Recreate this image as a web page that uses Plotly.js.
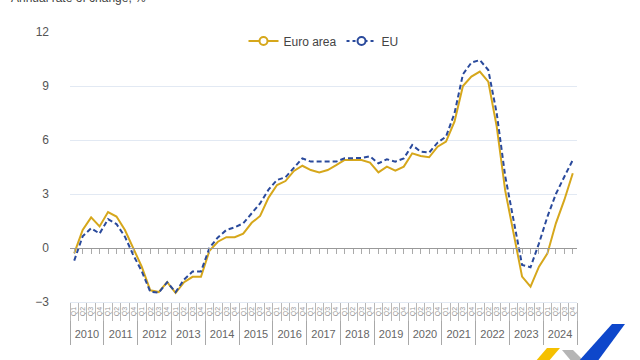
<!DOCTYPE html>
<html>
<head>
<meta charset="utf-8">
<script src="https://cdn.plot.ly/plotly-3.0.1.min.js"></script>
<style>html,body{margin:0;padding:0;background:#fff;}#chart{width:640px;height:360px;}</style>
</head>
<body>
<div id="chart"></div>
<script>
var years = ['2010','2011','2012','2013','2014','2015','2016','2017','2018','2019','2020','2021','2022','2023','2024'];
var quarters = ['Q1','Q2','Q3','Q4'];
var euroArea = [-0.3,1.0,1.7,1.2, 2.0,1.75,1.0,0.0, -1.05,-2.35,-2.45,-1.9, -2.5,-1.9,-1.6,-1.6,
  -0.15,0.35,0.6,0.6, 0.8,1.4,1.78,2.8, 3.5,3.72,4.28,4.57, 4.33,4.2,4.33,4.6,
  4.89,4.89,4.89,4.75, 4.2,4.52,4.3,4.52, 5.26,5.11,5.04,5.63, 5.91,7.02,9.0,9.52,
  9.8,9.24,6.74,3.2, 0.7,-1.59,-2.15,-1.04, -0.3,1.37,2.67,4.15];
var eu = [-0.7,0.65,1.1,0.8, 1.6,1.33,0.63,-0.4, -1.3,-2.43,-2.48,-1.9, -2.45,-1.75,-1.31,-1.3,
  0.0,0.59,1.0,1.15, 1.37,1.93,2.48,3.25, 3.78,3.93,4.43,4.98, 4.8,4.8,4.8,4.8,
  4.98,4.98,5.0,5.1, 4.7,4.93,4.8,4.98, 5.72,5.35,5.3,5.85, 6.19,7.48,9.65,10.3,
  10.44,9.89,7.48,4.0, 1.5,-0.94,-1.07,0.26, 1.74,3.0,3.96,4.89];
var seriesNames = ['Euro area','EU'];
var colors = ['#d6a71b','#2a4a9c'];

// category names and helper tick positions derived from the lists above
var cats = [], qText = [], idx = [], qBounds = [-0.5];
years.forEach(function(y){ quarters.forEach(function(q){
  cats.push(y + ' ' + q); qText.push(q); idx.push(idx.length); qBounds.push(idx.length - 0.5);
});});
var nQ = quarters.length;
var yearBounds = [], yearMids = [];
for (var k = 0; k <= years.length; k++) yearBounds.push(k*nQ - 0.5);
for (var k = 0; k < years.length; k++) yearMids.push(k*nQ + (nQ-1)/2);
var fullRange = [-0.5, cats.length - 0.5];

function helper(ax){ return {x:[null], y:[null], xaxis:ax, type:'scatter', mode:'lines', showlegend:false, hoverinfo:'skip'}; }

var traces = [
  {x:cats, y:euroArea, type:'scatter', mode:'lines', name:seriesNames[0], showlegend:false,
   line:{color:colors[0], width:2}, hoverinfo:'skip'},
  {x:cats, y:eu, type:'scatter', mode:'lines', name:seriesNames[1], showlegend:false,
   line:{color:colors[1], width:2, dash:'5px,3px'}, hoverinfo:'skip'},
  {x:[null], y:[null], xaxis:'x2', type:'scatter', mode:'lines+markers', name:seriesNames[0],
   line:{color:colors[0], width:2}, marker:{symbol:'circle', size:8, color:'#fff', line:{color:colors[0], width:2}}},
  {x:[null], y:[null], xaxis:'x2', type:'scatter', mode:'lines+markers', name:seriesNames[1],
   line:{color:colors[1], width:2, dash:'dot'}, marker:{symbol:'circle', size:8, color:'#fff', line:{color:colors[1], width:2}}},
  helper('x3'), helper('x4'), helper('x5')
];

function px(x){ return (x-70)/507; }
function py(y){ return (302-y)/270; }
function poly(pts){ return 'M' + pts.map(function(p){return px(p[0])+','+py(p[1]);}).join(' L') + ' Z'; }

var layout = {
  width:640, height:360,
  margin:{l:70, r:63, t:32, b:58},
  paper_bgcolor:'#fff', plot_bgcolor:'#fff',
  font:{family:'Liberation Sans, Arial, sans-serif', color:'#555', size:12},
  showlegend:true,
  legend:{orientation:'h', x:0.5, xanchor:'center', y:py(41), yanchor:'middle',
    bgcolor:'rgba(0,0,0,0)', font:{size:12, color:'#444'}, itemwidth:30, tracegroupgap:0},
  xaxis:{type:'category', range:fullRange, showgrid:false, zeroline:false,
    showline:true, linecolor:'#e2e9f3', linewidth:1,
    tickmode:'array', tickvals:cats, ticktext:qText, ticks:'',
    tickangle:-90, tickfont:{size:7, color:'#999'}, ticklabelstandoff:1},
  xaxis2:{overlaying:'x', anchor:'free', position:0.2, range:fullRange,
    tickmode:'array', tickvals:idx, showticklabels:false,
    ticks:'outside', ticklen:5, tickcolor:'#aaa', showline:true, linecolor:'#999', linewidth:1,
    showgrid:false, zeroline:false},
  xaxis3:{overlaying:'x', anchor:'y', side:'bottom', range:fullRange,
    tickmode:'array', tickvals:yearBounds, showticklabels:false,
    ticks:'outside', ticklen:42, tickcolor:'#a8a8a8', tickwidth:1,
    showline:false, showgrid:false, zeroline:false},
  xaxis4:{overlaying:'x', anchor:'y', side:'bottom', range:fullRange,
    tickmode:'array', tickvals:yearMids, ticktext:years, ticks:'',
    ticklabelstandoff:24, tickfont:{size:11, color:'#666'},
    showline:false, showgrid:false, zeroline:false},
  xaxis5:{overlaying:'x', anchor:'y', side:'bottom', range:fullRange,
    tickmode:'array', tickvals:qBounds, showticklabels:false,
    ticks:'outside', ticklen:18, tickcolor:'#b8b8b8', tickwidth:1,
    showline:false, showgrid:false, zeroline:false},
  yaxis:{range:[-3,12], tickmode:'linear', tick0:-3, dtick:3, showgrid:true, gridcolor:'#e2e9f3',
    zeroline:false, showline:false, ticks:'', ticklabelstandoff:20,
    tickfont:{size:12, color:'#555'}},
  annotations:[{text:'Annual rate of change, %', xref:'paper', yref:'paper', x:px(9), y:py(-2),
    xanchor:'left', yanchor:'middle', showarrow:false, font:{size:12, color:'#444'}}],
  shapes:[
    {type:'path', xref:'paper', yref:'paper', path:poly([[547,348],[560,348],[548,362],[535,362]]), fillcolor:'#f5c000', line:{width:0}},
    {type:'path', xref:'paper', yref:'paper', path:poly([[562,350],[573,350],[585,362],[572,362]]), fillcolor:'#b5b5b5', line:{width:0}},
    {type:'path', xref:'paper', yref:'paper', path:poly([[612,324],[625,324],[597,362],[578,362]]), fillcolor:'#0e47cb', line:{width:0}}
  ]
};

Plotly.newPlot('chart', traces, layout, {displayModeBar:false, staticPlot:true});
</script>
</body>
</html>
